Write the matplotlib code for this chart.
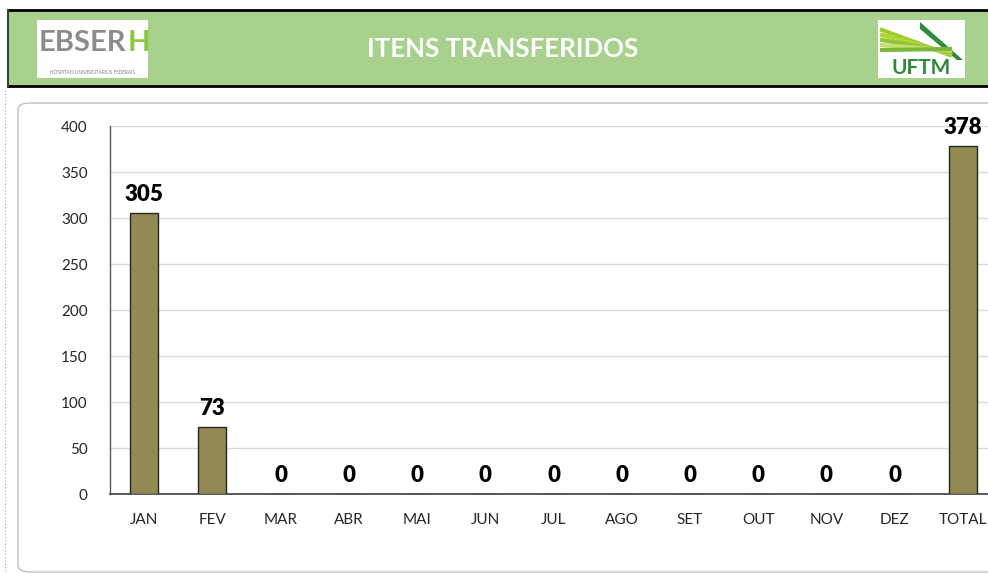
import matplotlib
matplotlib.use("Agg")
import matplotlib.pyplot as plt
from matplotlib.patches import Rectangle, FancyBboxPatch, Polygon
from matplotlib.lines import Line2D

categories = ["JAN", "FEV", "MAR", "ABR", "MAI", "JUN", "JUL", "AGO", "SET", "OUT", "NOV", "DEZ", "TOTAL"]
values = [305, 73, 0, 0, 0, 0, 0, 0, 0, 0, 0, 0, 378]
yticks = [0, 50, 100, 150, 200, 250, 300, 350, 400]
title = "ITENS TRANSFERIDOS"

plt.rcParams['font.family'] = ['Lato', 'DejaVu Sans']

W, H = 988, 573
fig = plt.figure(figsize=(W / 100, H / 100), dpi=100)
fig.patch.set_facecolor("white")

def fx(px):
    return px / W

def fy(py):
    return 1 - py / H

# page dotted margin line at left
fig.add_artist(Line2D([fx(5), fx(5)], [fy(90), fy(573)], color="#A6A6A6", lw=0.8, ls=(0, (1, 2)), zorder=0))

# header band
fig.add_artist(Rectangle((fx(8), fy(86)), 1 - fx(8), fy(10) - fy(86), facecolor="#A9D18E",
                         edgecolor="none", transform=fig.transFigure, zorder=0))
fig.add_artist(Line2D([fx(8), 1], [fy(10), fy(10)], color="black", lw=2))
fig.add_artist(Line2D([fx(8), 1], [fy(86), fy(86)], color="black", lw=2))
fig.add_artist(Line2D([fx(8), fx(8)], [fy(10), fy(86)], color="#404040", lw=1.5))
fig.text(fx(503), fy(49), title, color="white", fontsize=18.5, fontweight="bold",
         ha="center", va="center")

# EBSERH logo approximation
fig.add_artist(Rectangle((fx(37), fy(78)), fx(111), fy(20) - fy(78), facecolor="white",
                         edgecolor="none", transform=fig.transFigure, zorder=0.5))
fig.text(fx(39), fy(43), "EBSER", color="#8C8C8C", fontsize=21, fontweight="bold",
         ha="left", va="center")
fig.text(fx(128), fy(43), "H", color="#8CC63F", fontsize=21, fontweight="bold",
         ha="left", va="center")
fig.text(fx(92), fy(72), "HOSPITAIS UNIVERSITÁRIOS FEDERAIS", color="#808080", fontsize=3.4,
         ha="center", va="center")

# UFTM logo approximation
fig.add_artist(Rectangle((fx(878), fy(78)), fx(87), fy(20) - fy(78), facecolor="white",
                         edgecolor="none", transform=fig.transFigure, zorder=0.5))
fig.add_artist(Polygon([[fx(920), fy(22)], [fx(963), fy(60)], [fx(957), fy(60)], [fx(920), fy(29)]],
                       closed=True, facecolor="#2E8B3A", edgecolor="none", transform=fig.transFigure))
for i, c in enumerate(["#9ACD32", "#B5D334", "#8CC63F", "#C5E06A", "#7DB83A"]):
    fig.add_artist(Line2D([fx(882), fx(950)], [fy(30 + i * 5), fy(55 - i * 1.5)],
                          color=c, lw=3, transform=fig.transFigure))
fig.text(fx(921), fy(68), "UFTM", color="#2E8B3A", fontsize=15, fontweight="bold",
         ha="center", va="center")

# chart panel
fig.add_artist(FancyBboxPatch((fx(18), fy(572)), fx(1000), fy(103) - fy(572),
                              boxstyle="round,pad=0,rounding_size=0.012", facecolor="white",
                              edgecolor="#BFBFBF", lw=1, transform=fig.transFigure, zorder=0))

ax = fig.add_axes([fx(110), fy(494), fx(997) - fx(110), fy(126) - fy(494)])
ax.set_zorder(3)
ax.set_facecolor("none")
x = list(range(len(categories)))
bars = ax.bar(x, values, width=0.41, color="#938953", edgecolor="#262626", linewidth=1, zorder=3)
ax.set_xlim(-0.5, len(categories) - 0.5)
ax.set_ylim(0, 400)
ax.set_yticks(yticks)
ax.set_yticklabels([str(v) for v in yticks], fontsize=11, color="#262626")
ax.set_xticks(x)
ax.set_xticklabels(categories, fontsize=11, color="#262626")
ax.tick_params(axis="y", length=0, pad=16)
ax.tick_params(axis="x", length=0, pad=14)
ax.grid(axis="y", color="#D9D9D9", lw=1, zorder=0)
for s in ["top", "right"]:
    ax.spines[s].set_visible(False)
ax.spines["left"].set_color("#595959")
ax.spines["bottom"].set_color("#404040")
ax.spines["left"].set_linewidth(1)
ax.spines["bottom"].set_linewidth(1.2)

for xi, v in zip(x, values):
    ax.annotate(str(v), (xi, v), xytext=(0, 6), textcoords="offset points",
                ha="center", va="bottom", fontsize=16, fontweight="heavy", color="black", zorder=5)

fig.savefig("out.png", dpi=100)
